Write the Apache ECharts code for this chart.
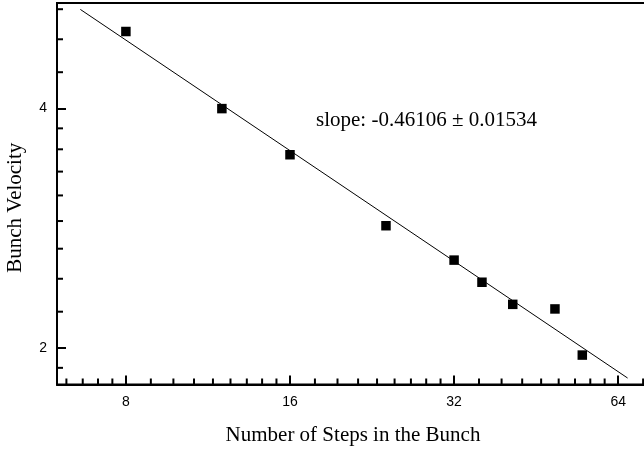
<!DOCTYPE html>
<html>
<head>
<meta charset="utf-8">
<script src="https://cdn.jsdelivr.net/npm/echarts@6/dist/echarts.min.js"></script>
<style>
html, body { margin: 0; padding: 0; background: #fff; }
#chart { width: 644px; height: 449px; }
</style>
</head>
<body>
<div id="chart"></div>
<script>
// bunch size (steps) and measured velocity
var steps = [8, 12, 16, 24, 32, 36, 41, 49, 55];
var velocity = [5.0, 4.0, 3.5, 2.85, 2.58, 2.42, 2.27, 2.24, 1.96];
// end points of the fitted power law line
var fitSteps = [6.6, 66.6];
var fitVelocity = [5.33, 1.834];
var slopeText = 'slope: -0.46106 \u00b1 0.01534';

// axis ranges and major ticks (log base 2)
var xRange = [5.98, 72.9];
var yRange = [1.80, 5.43];
var xMajor = [4, 8, 16, 32, 64];
var yMajor = [1, 2, 4];

// minor ticks: each octave split in 9 equal (linear) steps
function minorTicks(majors, range) {
	var out = [];
	majors.forEach(function (m) {
		for (var k = 1; k < 9; k++) {
			var v = m + m * k / 9;
			if (v > range[0] && v < range[1]) out.push(v);
		}
	});
	return out;
}
var xMinor = minorTicks(xMajor, xRange);
var yMinor = minorTicks(yMajor, yRange);

var myChart = echarts.init(document.getElementById('chart'));

var pts = steps.map(function (s, i) { return [s, velocity[i]]; });
var fit = fitSteps.map(function (s, i) { return [s, fitVelocity[i]]; });

var option = {
	animation: false,
	backgroundColor: '#fff',
	grid: {
		left: 57,
		top: 3,
		width: 592,
		height: 381.5,
		outerBoundsMode: 'none',
		containLabel: false,
		show: true,
		borderColor: '#000',
		borderWidth: 2
	},
	xAxis: {
		type: 'log',
		logBase: 2,
		min: xRange[0],
		max: xRange[1],
		name: 'Number of Steps in the Bunch',
		nameLocation: 'middle',
		nameGap: 40,
		nameTextStyle: { fontFamily: 'Liberation Serif', fontSize: 21, color: '#000' },
		axisLine: { lineStyle: { color: '#000', width: 2 } },
		axisTick: { inside: true, length: 9, lineStyle: { color: '#000', width: 2 } },
		axisLabel: {
			showMinLabel: false, showMaxLabel: false,
			margin: 11,
			fontFamily: 'Liberation Sans', fontSize: 14, color: '#000'
		},
		splitLine: { show: false }
	},
	yAxis: {
		type: 'log',
		logBase: 2,
		min: yRange[0],
		max: yRange[1],
		name: 'Bunch Velocity',
		nameLocation: 'middle',
		nameGap: 31,
		nameTextStyle: {
			fontFamily: 'Liberation Serif', fontSize: 21, color: '#000',
			padding: [0, 0, 0, -28]
		},
		axisLine: { lineStyle: { color: '#000', width: 2 } },
		axisTick: { inside: true, length: 9, lineStyle: { color: '#000', width: 2 } },
		axisLabel: {
			showMinLabel: false, showMaxLabel: false,
			margin: 10,
			fontFamily: 'Liberation Sans', fontSize: 14, color: '#000'
		},
		splitLine: { show: false }
	},
	series: [{
		// minor ticks on the bottom axis
		type: 'scatter',
		data: xMinor.map(function (v) { return [v, yRange[0]]; }),
		symbol: 'rect',
		symbolSize: [2, 6],
		symbolOffset: [0, -3],
		itemStyle: { color: '#000', opacity: 1 },
		silent: true,
		clip: false,
		z: 1
	}, {
		// minor ticks on the left axis
		type: 'scatter',
		data: yMinor.map(function (v) { return [xRange[0], v]; }),
		symbol: 'rect',
		symbolSize: [6, 2],
		symbolOffset: [3, 0],
		itemStyle: { color: '#000', opacity: 1 },
		silent: true,
		clip: false,
		z: 1
	}, {
		type: 'line',
		data: fit,
		showSymbol: false,
		lineStyle: { color: '#000', width: 1 },
		z: 2
	}, {
		type: 'scatter',
		data: pts,
		symbol: 'rect',
		symbolSize: 9.5,
		itemStyle: { color: '#000', opacity: 1 },
		z: 3
	}],
	graphic: [{
		type: 'text',
		left: 316,
		top: 110,
		style: {
			text: slopeText,
			font: '21px "Liberation Serif"',
			fill: '#000'
		}
	}]
};

myChart.setOption(option);
</script>
</body>
</html>
